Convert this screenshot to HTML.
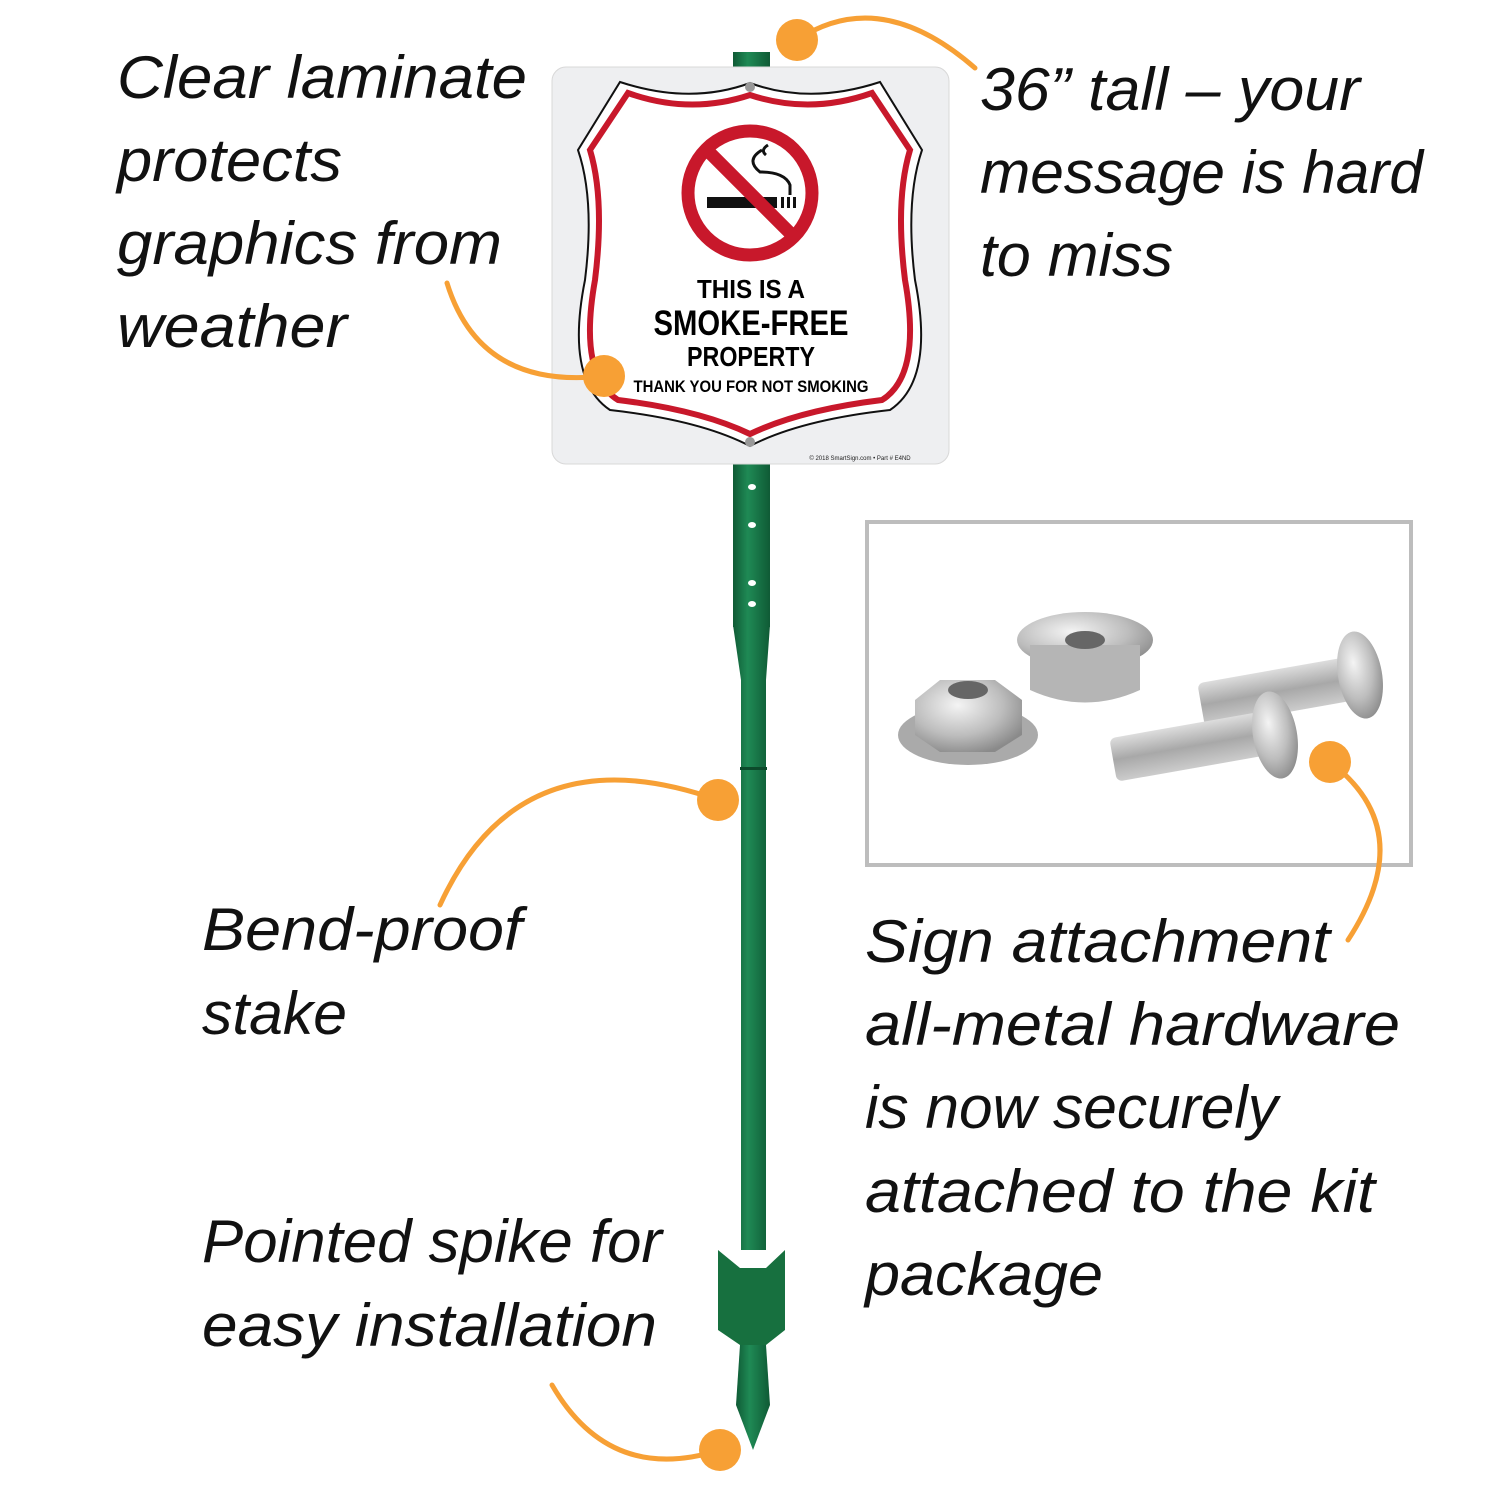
<!DOCTYPE html>
<html><head><meta charset="utf-8"><style>
html,body{margin:0;padding:0;background:#fff;}
svg{display:block;}
text{font-family:"Liberation Sans",sans-serif;font-style:italic;fill:#111;}
</style></head><body>
<svg width="1500" height="1500" viewBox="0 0 1500 1500" xmlns="http://www.w3.org/2000/svg">
<defs>
<linearGradient id="st" x1="0" x2="1"><stop offset="0" stop-color="#0f5a35"/><stop offset="0.4" stop-color="#1f8a55"/><stop offset="1" stop-color="#0f5a35"/></linearGradient>
<radialGradient id="met" cx="0.4" cy="0.35" r="0.7"><stop offset="0" stop-color="#f4f4f4"/><stop offset="0.6" stop-color="#bdbdbd"/><stop offset="1" stop-color="#8a8a8a"/></radialGradient>
<linearGradient id="thr" x1="0" y1="0" x2="0" y2="1"><stop offset="0" stop-color="#ddd"/><stop offset="0.5" stop-color="#a8a8a8"/><stop offset="1" stop-color="#ccc"/></linearGradient>
</defs>
<!-- stake -->
<rect x="733" y="52" width="37" height="575" fill="url(#st)"/>
<path d="M733 625 L770 625 L766 680 L766 1250 L741 1250 L741 680 Z" fill="url(#st)"/>
<path d="M718 1250 L740 1268 L766 1268 L785 1250 L785 1330 L766 1345 L740 1345 L718 1330 Z" fill="#17703f"/>
<path d="M740 1345 L766 1345 L770 1405 L753 1450 L736 1405 Z" fill="url(#st)"/>
<rect x="740" y="767" width="27" height="3" fill="#0c4a2b"/>
<g fill="#fff"><ellipse cx="752" cy="487" rx="4" ry="3"/><ellipse cx="752" cy="525" rx="4" ry="3"/><ellipse cx="752" cy="583" rx="4" ry="3"/><ellipse cx="752" cy="604" rx="4" ry="3"/></g>
<!-- sign -->
<rect x="552" y="67" width="397" height="397" rx="14" fill="#eeeff1" stroke="#d8d8d8"/>
<path d="M620 82 Q690 105 750 83 Q810 105 880 82 L922 150 Q905 200 915 280 Q935 380 890 410 Q800 420 750 446 Q700 420 610 410 Q565 380 585 280 Q595 200 578 150 Z" fill="#fff" stroke="#111" stroke-width="2"/>
<path d="M628 93 Q690 115 750 95 Q810 115 872 93 L910 150 Q895 200 905 280 Q922 375 882 400 Q800 410 750 434 Q700 410 618 400 Q578 375 595 280 Q605 200 590 150 Z" fill="none" stroke="#c8182b" stroke-width="6"/>
<circle cx="750" cy="193" r="62" fill="none" stroke="#c8182b" stroke-width="13"/>
<rect x="707" y="197" width="70" height="11" fill="#111"/>
<rect x="781" y="197" width="3" height="11" fill="#111"/><rect x="787" y="197" width="3" height="11" fill="#111"/><rect x="793" y="197" width="3" height="11" fill="#111"/>
<path d="M762 150 Q745 160 760 172 Q785 172 790 185 L790 195 M768 145 Q760 150 766 155" fill="none" stroke="#111" stroke-width="3"/>
<line x1="707" y1="150" x2="793" y2="236" stroke="#c8182b" stroke-width="13"/>
<g font-weight="bold" text-anchor="middle">
<text x="751" y="298" font-size="26" textLength="108" lengthAdjust="spacingAndGlyphs" style="font-style:normal;fill:#000">THIS IS A</text>
<text x="751" y="335" font-size="35" textLength="195" lengthAdjust="spacingAndGlyphs" style="font-style:normal;fill:#000">SMOKE-FREE</text>
<text x="751" y="366" font-size="28" textLength="128" lengthAdjust="spacingAndGlyphs" style="font-style:normal;fill:#000">PROPERTY</text>
<text x="751" y="392" font-size="17" textLength="235" lengthAdjust="spacingAndGlyphs" style="font-style:normal;fill:#000">THANK YOU FOR NOT SMOKING</text>
<text x="860" y="460" font-size="6" style="font-style:normal;fill:#222;font-weight:normal">© 2018 SmartSign.com • Part # E4ND</text>
</g>
<circle cx="750" cy="87" r="5" fill="#999"/><circle cx="750" cy="442" r="5" fill="#999"/>
<!-- hardware box -->
<rect x="867" y="522" width="544" height="343" fill="#fff" stroke="#bdbdbd" stroke-width="4"/>
<g>
<ellipse cx="968" cy="735" rx="70" ry="30" fill="#aaa"/>
<polygon points="915,700 940,680 995,680 1022,700 1022,735 995,752 940,752 915,735" fill="url(#met)"/>
<ellipse cx="968" cy="690" rx="20" ry="9" fill="#666"/>
<ellipse cx="1085" cy="640" rx="68" ry="28" fill="url(#met)"/>
<path d="M1030 645 L1030 690 Q1085 715 1140 690 L1140 645 Z" fill="#b5b5b5"/>
<ellipse cx="1085" cy="640" rx="20" ry="9" fill="#666"/>
<rect x="1200" y="670" width="150" height="44" rx="6" fill="url(#thr)" transform="rotate(-10 1275 692)"/>
<ellipse cx="1360" cy="675" rx="22" ry="44" fill="url(#met)" transform="rotate(-10 1360 675)"/>
<rect x="1112" y="725" width="150" height="44" rx="6" fill="url(#thr)" transform="rotate(-10 1187 747)"/>
<ellipse cx="1275" cy="735" rx="22" ry="44" fill="url(#met)" transform="rotate(-10 1275 735)"/>
</g>
<!-- orange callouts -->
<g fill="none" stroke="#f7a035" stroke-width="5" stroke-linecap="round">
<path d="M797 40 Q880 -15 975 68"/>
<path d="M447 283 Q480 390 604 376"/>
<path d="M440 905 Q520 730 718 800"/>
<path d="M552 1385 Q610 1485 720 1450"/>
<path d="M1330 762 Q1420 830 1348 940"/>
</g>
<g fill="#f7a035">
<circle cx="797" cy="40" r="21"/><circle cx="604" cy="376" r="21"/><circle cx="718" cy="800" r="21"/><circle cx="720" cy="1450" r="21"/><circle cx="1330" cy="762" r="21"/>
</g>
<!-- labels -->
<g font-size="60">
<text x="117" y="98" textLength="410" lengthAdjust="spacingAndGlyphs">Clear laminate</text>
<text x="117" y="181" textLength="225" lengthAdjust="spacingAndGlyphs">protects</text>
<text x="117" y="264" textLength="385" lengthAdjust="spacingAndGlyphs">graphics from</text>
<text x="117" y="347" textLength="230" lengthAdjust="spacingAndGlyphs">weather</text>
<text x="980" y="110" textLength="380" lengthAdjust="spacingAndGlyphs">36” tall – your</text>
<text x="980" y="193" textLength="443" lengthAdjust="spacingAndGlyphs">message is hard</text>
<text x="980" y="276" textLength="193" lengthAdjust="spacingAndGlyphs">to miss</text>
<text x="202" y="950" textLength="320" lengthAdjust="spacingAndGlyphs">Bend-proof</text>
<text x="202" y="1034" textLength="145" lengthAdjust="spacingAndGlyphs">stake</text>
<text x="202" y="1262" textLength="460" lengthAdjust="spacingAndGlyphs">Pointed spike for</text>
<text x="202" y="1346" textLength="455" lengthAdjust="spacingAndGlyphs">easy installation</text>
<text x="865" y="962" textLength="465" lengthAdjust="spacingAndGlyphs">Sign attachment</text>
<text x="865" y="1045" textLength="535" lengthAdjust="spacingAndGlyphs">all-metal hardware</text>
<text x="865" y="1128" textLength="413" lengthAdjust="spacingAndGlyphs">is now securely</text>
<text x="865" y="1212" textLength="510" lengthAdjust="spacingAndGlyphs">attached to the kit</text>
<text x="865" y="1295" textLength="238" lengthAdjust="spacingAndGlyphs">package</text>
</g>
</svg>
</body></html>
